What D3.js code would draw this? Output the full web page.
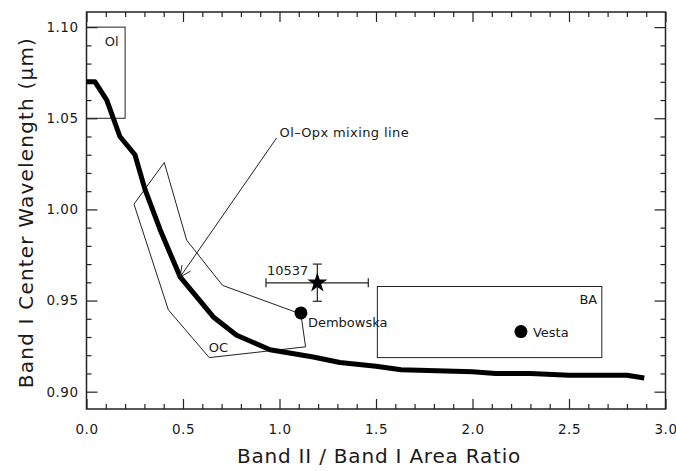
<!DOCTYPE html>
<html><head><meta charset="utf-8">
<script src="https://cdn.jsdelivr.net/npm/d3@7"></script>
<style>body{margin:0;background:#fff}svg{display:block}text{font-family:"DejaVu Sans",sans-serif;fill:#1a1a1a}</style>
</head><body>
<svg id="c" width="676" height="471"></svg>
<script>
// ---- data ----
const mixingX = [0.0,0.044,0.105,0.173,0.251,0.303,0.381,0.433,0.485,0.571,0.657,0.778,0.951,1.175,1.313,1.5,1.63,2.0,2.12,2.3,2.5,2.8,2.89];
const mixingY = [1.070,1.070,1.060,1.040,1.030,1.011,0.989,0.976,0.963,0.952,0.941,0.931,0.923,0.919,0.916,0.914,0.912,0.911,0.910,0.910,0.909,0.909,0.9075];
const olBoxX = [0.0,0.2];
const olBoxY = [1.05,1.10];
const baBoxX = [1.507,2.67];
const baBoxY = [0.9187,0.9577];
const ocX = [0.403,0.519,0.705,1.111,1.135,0.636,0.424,0.246];
const ocY = [1.0257,0.9831,0.9583,0.9426,0.9246,0.9187,0.9449,1.0029];
const asteroidNames = ["Dembowska","Vesta"];
const asteroidX = [1.111,2.251];
const asteroidY = [0.9432,0.9330];
const meteorite = {name:"10537", x:1.196, y:0.9597, xlo:0.930, xhi:1.460, ylo:0.9496, yhi:0.970};
const arrowFrom = [0.985,1.0392];
const arrowTo = [0.485,0.9629];
const xMajor = [0,0.5,1,1.5,2,2.5,3];
const yMajor = [0.90,0.95,1.00,1.05,1.10];
const xTitle = "Band II / Band I Area Ratio";
const yTitle = "Band I Center Wavelength (\u03bcm)";

// ---- layout ----
const L=86.5, R=665.5, T=12, B=409;
const x = d3.scaleLinear().domain([0,3]).range([L,R]);
const y = d3.scaleLinear().domain([0.8905,1.1083]).range([B,T]);
const svg = d3.select("#c");
const stroke="#222";

const xMinor = d3.range(0,3.0001,0.1).filter(v=>Math.abs(v*2-Math.round(v*2))>1e-6);
const yMinor = d3.range(0.89,1.1085,0.01).map(v=>+v.toFixed(2)).filter(v=>Math.abs(v*20-Math.round(v*20))>1e-6 && v>=0.8907);

function axisStyle(g){g.select(".domain").remove();g.selectAll("line").attr("stroke",stroke).attr("stroke-width",1.2);}
svg.append("g").attr("transform",`translate(0,${B})`).call(d3.axisBottom(x).tickValues(xMajor).tickFormat(d3.format(".1f")).tickSize(-10).tickSizeOuter(0).tickPadding(15)).call(axisStyle).selectAll("text").attr("font-size",13.5).attr("letter-spacing",0.5);
svg.append("g").attr("transform",`translate(0,${B})`).call(d3.axisBottom(x).tickValues(xMinor).tickFormat("").tickSize(-5).tickSizeOuter(0)).call(axisStyle);
svg.append("g").attr("transform",`translate(0,${T})`).call(d3.axisTop(x).tickValues(xMajor).tickFormat("").tickSize(-10).tickSizeOuter(0)).call(axisStyle);
svg.append("g").attr("transform",`translate(0,${T})`).call(d3.axisTop(x).tickValues(xMinor).tickFormat("").tickSize(-5).tickSizeOuter(0)).call(axisStyle);
svg.append("g").attr("transform",`translate(${L},0)`).call(d3.axisLeft(y).tickValues(yMajor).tickFormat(d3.format(".2f")).tickSize(-11).tickSizeOuter(0).tickPadding(8)).call(axisStyle).selectAll("text").attr("font-size",13.5).attr("letter-spacing",0.5);
svg.append("g").attr("transform",`translate(${L},0)`).call(d3.axisLeft(y).tickValues(yMinor).tickFormat("").tickSize(-5).tickSizeOuter(0)).call(axisStyle);
svg.append("g").attr("transform",`translate(${R},0)`).call(d3.axisRight(y).tickValues(yMajor).tickFormat("").tickSize(-11).tickSizeOuter(0)).call(axisStyle);
svg.append("g").attr("transform",`translate(${R},0)`).call(d3.axisRight(y).tickValues(yMinor).tickFormat("").tickSize(-5).tickSizeOuter(0)).call(axisStyle);
svg.append("rect").attr("x",L).attr("y",T).attr("width",R-L).attr("height",B-T).attr("fill","none").attr("stroke",stroke).attr("stroke-width",1.5);

// titles
svg.append("text").attr("x",(L+R)/2+3).attr("y",463).attr("text-anchor","middle").attr("font-size",20).attr("letter-spacing",0.8).text(xTitle);
svg.append("text").attr("transform",`translate(33,${(T+B)/2+2}) rotate(-90)`).attr("text-anchor","middle").attr("font-size",20).attr("letter-spacing",1.2).text(yTitle);

// boxes
svg.append("rect").attr("x",x(olBoxX[0])).attr("y",y(olBoxY[1])).attr("width",x(olBoxX[1])-x(olBoxX[0])).attr("height",y(olBoxY[0])-y(olBoxY[1])).attr("fill","none").attr("stroke",stroke).attr("stroke-width",1);
svg.append("rect").attr("x",x(baBoxX[0])).attr("y",y(baBoxY[1])).attr("width",x(baBoxX[1])-x(baBoxX[0])).attr("height",y(baBoxY[0])-y(baBoxY[1])).attr("fill","none").attr("stroke",stroke).attr("stroke-width",1);
svg.append("path").datum(ocX.map((v,i)=>[v,ocY[i]])).attr("d",d3.line().x(d=>x(d[0])).y(d=>y(d[1])).curve(d3.curveLinearClosed)).attr("fill","none").attr("stroke",stroke).attr("stroke-width",1);

// mixing line
svg.append("path").datum(mixingX.map((v,i)=>[v,mixingY[i]])).attr("d",d3.line().x(d=>x(d[0])).y(d=>y(d[1]))).attr("fill","none").attr("stroke","#000").attr("stroke-width",5).attr("stroke-linejoin","round");

// arrow
const ax0=x(arrowFrom[0]), ay0=y(arrowFrom[1]), ax1=x(arrowTo[0]), ay1=y(arrowTo[1]);
svg.append("line").attr("x1",ax0).attr("y1",ay0).attr("x2",ax1).attr("y2",ay1).attr("stroke",stroke).attr("stroke-width",1);
const ang=Math.atan2(ay0-ay1,ax0-ax1), hl=12, ha=0.45;
[ang-ha,ang+ha].forEach(a=>svg.append("line").attr("x1",ax1).attr("y1",ay1).attr("x2",ax1+hl*Math.cos(a)).attr("y2",ay1+hl*Math.sin(a)).attr("stroke",stroke).attr("stroke-width",1));
svg.append("text").attr("x",ax0+3).attr("y",ay0-1).attr("font-size",13).attr("letter-spacing",0.4).text("Ol\u2013Opx mixing line");

// labels
svg.append("text").attr("x",x(0.13)).attr("y",y(1.0925)+5).attr("text-anchor","middle").attr("font-size",13).text("Ol");
svg.append("text").attr("x",x(0.683)).attr("y",y(0.9246)+5).attr("text-anchor","middle").attr("font-size",13).text("OC");
svg.append("text").attr("x",x(2.60)).attr("y",y(0.9508)+5).attr("text-anchor","middle").attr("font-size",13).text("BA");

// asteroids
svg.selectAll("circle.ast").data(asteroidNames).join("circle").attr("class","ast").attr("cx",(d,i)=>x(asteroidX[i])).attr("cy",(d,i)=>y(asteroidY[i])).attr("r",6.5).attr("fill","#000");
svg.selectAll("text.ast").data(asteroidNames).join("text").attr("class","ast")
  .attr("x",(d,i)=>x(asteroidX[i])+(i===0?7:12)).attr("y",(d,i)=>y(asteroidY[i])+(i===0?14:5)).attr("font-size",13).text(d=>d);

// meteorite with error bars
const m=meteorite, cap=4.5;
svg.append("line").attr("x1",x(m.xlo)).attr("x2",x(m.xhi)).attr("y1",y(m.y)).attr("y2",y(m.y)).attr("stroke",stroke).attr("stroke-width",1.2);
[m.xlo,m.xhi].forEach(v=>svg.append("line").attr("x1",x(v)).attr("x2",x(v)).attr("y1",y(m.y)-cap).attr("y2",y(m.y)+cap).attr("stroke",stroke).attr("stroke-width",1.2));
svg.append("line").attr("x1",x(m.x)).attr("x2",x(m.x)).attr("y1",y(m.ylo)).attr("y2",y(m.yhi)).attr("stroke",stroke).attr("stroke-width",1.2);
[m.ylo,m.yhi].forEach(v=>svg.append("line").attr("x1",x(m.x)-cap).attr("x2",x(m.x)+cap).attr("y1",y(v)).attr("y2",y(v)).attr("stroke",stroke).attr("stroke-width",1.2));
svg.append("path").attr("transform",`translate(${x(m.x)},${y(m.y)})`).attr("d",d3.symbol(d3.symbolStar,125)()).attr("fill","#000");
svg.append("text").attr("x",x(m.x)-9).attr("y",y(m.y)-8).attr("text-anchor","end").attr("font-size",13).text(m.name);
</script>
</body></html>
